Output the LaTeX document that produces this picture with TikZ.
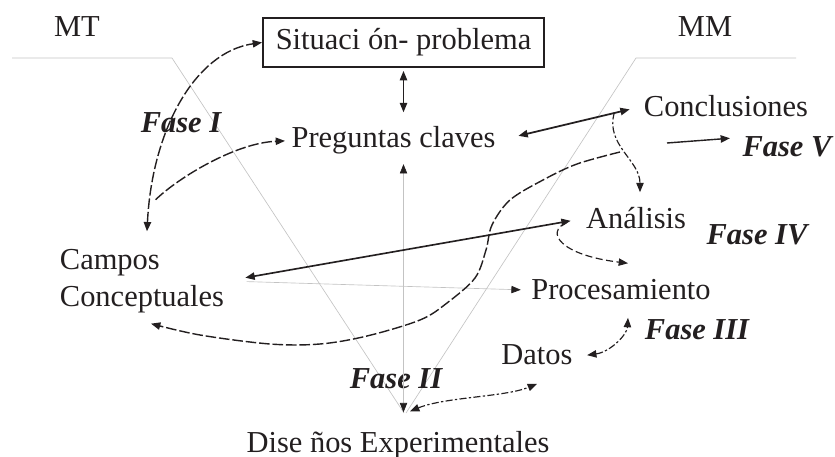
\documentclass[tikz,border=0pt]{standalone}
\usepackage{fontspec}
\setmainfont{Liberation Serif}
\usepackage{tikz}
\usetikzlibrary{arrows.meta, calc}
\definecolor{ink}{RGB}{35,31,32}
\definecolor{vgray}{RGB}{195,195,195}

\begin{document}
\begin{tikzpicture}[x=0.03cm, y=-0.03cm,
    every node/.style={font=\fontsize{26}{32}\selectfont, text=ink, inner sep=2pt},
    fase/.style={font=\fontsize{26}{32}\selectfont\bfseries\itshape},
    tip/.style={-{Triangle[length=2.8mm, width=2.2mm]}},
    dtip/.style={{Triangle[length=2.8mm, width=2.2mm]}-{Triangle[length=2.8mm, width=2.2mm]}},
    gtip/.style={{Triangle[length=2.8mm, width=2.2mm, color=ink]}-{Triangle[length=2.8mm, width=2.2mm, color=ink]}},
    longdash/.style={ink, line width=1.2pt, dash pattern=on 9pt off 2.5pt},
    dashdot/.style={ink, line width=1pt, dash pattern=on 6pt off 2pt on 2pt off 2pt},
    shortdash/.style={ink, line width=1pt, dash pattern=on 6pt off 3pt},
    vline/.style={vgray, line width=0.55pt}]
  \useasboundingbox (0,0) rectangle (835,457);

  % the V
  \draw[vline] (12,58) -- (172,58) -- (404,413);
  \draw[vline] (796,58) -- (636,58) -- (406,413);

  \node[anchor=base] (mt) at (77,37) {MT};
  \node[anchor=base] (mm) at (705,37) {MM};
  \node[draw=ink, line width=1.6pt, minimum width=8.43cm, minimum height=1.47cm]
    (sit) at (403.5,42.5) {Situaci ón- problema};
  \node[anchor=base] (preg) at (393.5,148) {Preguntas claves};
  \node[anchor=base] (concl) at (726,117) {Conclusiones};
  \node[anchor=base] (anal) at (636,229) {Análisis};
  \node[align=left] (campos) at (142,281) {Campos\\Conceptuales};
  \node[anchor=base] (proc) at (621,300) {Procesamiento};
  \node[anchor=base] (datos) at (537,365) {Datos};
  \node[anchor=base] (dis) at (398,452) {Dise ños Experimentales};

  \node[anchor=base, fase] (f1) at (181,133) {Fase I};
  \node[anchor=base, fase] (f2) at (396,388) {Fase II};
  \node[anchor=base, fase] (f3) at (697,340) {Fase III};
  \node[anchor=base, fase] (f4) at (757,245) {Fase IV};
  \node[anchor=base, fase] (f5) at (787,157) {Fase V};

  % solid links
  \draw[ink, dtip, line width=1.1pt, shorten <=0.09cm, shorten >=0.36cm]
    (sit.south) -- (sit.south |- preg.north);
  \draw[vline, gtip, shorten <=0.21cm, shorten >=0.48cm]
    (sit.south |- preg.south) -- (sit.south |- dis.north);
  \draw[ink, dtip, line width=1.5pt, shorten <=0.63cm, shorten >=0.36cm]
    (preg.east) -- (concl.west);
  \draw[ink, dtip, line width=1.4pt, shorten <=0.57cm, shorten >=0.39cm]
    (campos.east) -- (anal.west);
  \draw[vline, -{Triangle[length=2.8mm, width=2.2mm, color=ink]}, shorten <=0.6cm, shorten >=0.24cm]
    (campos.east) -- (proc.west);
  \coordinate (v0) at (667,143);
  \draw[ink, tip, line width=1.2pt] (v0) -- ([shift={(-10,-9)}]f5.west);

  % Fase I
  \draw[longdash, dtip] ([shift={(5,-15)}]campos.north)
    .. controls (152,130) and (195,52) .. (sit.west) coordinate[pos=0.1] (fI);
  \draw[longdash, tip, shorten >=0.12cm] ([shift={(6,-2)}]fI) .. controls (178,178) and (235,143) .. (preg.west);

  % back to the concepts
  \coordinate (s0) at (620,152);
  \draw[longdash, tip] plot[smooth, tension=0.55] coordinates {(s0) (577,164) (543,180)
    (510,200) (492,225) (486,250) (475,278) (447,303) (420,320) (367,336) (320,344)
    (270,344) (200,335) ([shift={(9,8)}]campos.south)};

  % right side
  \draw[dashdot, tip] ([shift={(-27,6)}]concl.west) .. controls (605,145) and (640,160)
    .. ([shift={(4,-13)}]anal.north);
  \draw[shortdash, tip] ([shift={(-17,4)}]anal.west) .. controls (545,232) and (560,255)
    .. ([shift={(7,-14)}]proc.north);
  \draw[dashdot, dtip] ([shift={(12,0)}]datos.east) .. controls (610,352) and (627,335)
    .. ([shift={(7,15)}]proc.south);
  \draw[dashdot, dtip] ([shift={(12,-17)}]dis.north) .. controls (445,397) and (505,397)
    .. ([shift={(0,16)}]datos.south);
\end{tikzpicture}
\end{document}
